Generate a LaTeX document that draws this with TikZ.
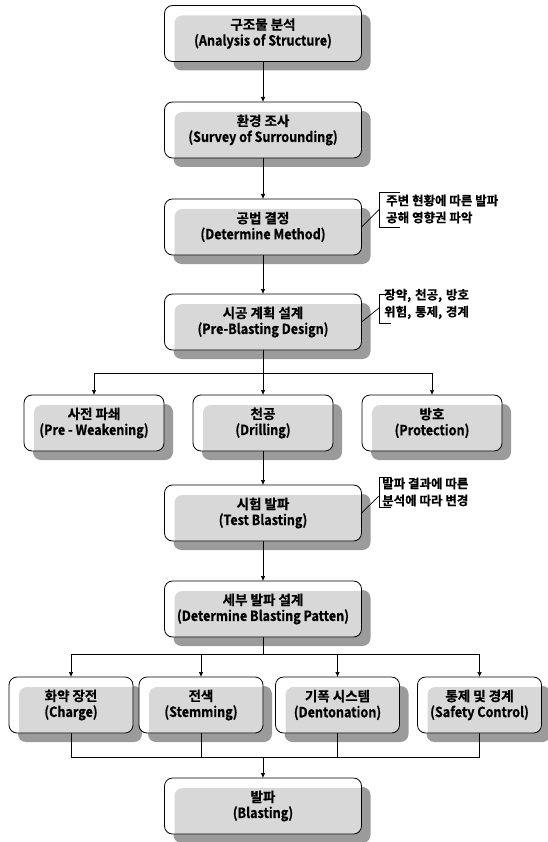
\documentclass[tikz,border=0pt]{standalone}
\usepackage{fontspec}
\usetikzlibrary{arrows.meta}
\newfontfamily\krb{Noto Sans CJK KR Bold}[FakeBold=0.5]
\newfontfamily\enb{Noto Sans CJK KR Bold}[FakeStretch=0.9,FakeBold=0.7]
\definecolor{innergray}{RGB}{216,216,216}
\definecolor{shadowgray}{RGB}{155,155,155}
\newcommand\bxt[2]{{\krb\fontsize{13.5}{19}\selectfont #1}\\[-3pt]{\enb\fontsize{14}{19}\selectfont #2}}
\tikzset{
  flowbox/.style={draw, line width=0.8pt, rounded corners=8pt, fill=white,
    minimum height=56pt, inner sep=0pt, outer sep=0pt, align=center,
    font=\fontsize{13.5}{19}\selectfont,
    preaction={fill=shadowgray, draw=none, transform canvas={shift={(9pt,-9pt)}}},
    path picture={\fill[innergray, rounded corners=8pt]
      ([shift={(10pt,-10pt)}]path picture bounding box.north west) rectangle
      ([shift={(10pt,-10pt)}]path picture bounding box.south east);}},
  boxwide/.style={flowbox, minimum width=197pt},
  boxmid/.style={flowbox, minimum width=140pt},
  boxnarrow/.style={flowbox, minimum width=124pt},
  conn/.style={line width=0.7pt},
  arr/.style={conn, -{Latex[length=5pt,width=4.5pt]}},
  note/.style={font=\krb\fontsize{12.5}{17}\selectfont, align=left, anchor=west, inner sep=0pt},
  bracket/.style={line width=0.7pt}
}
\begin{document}
\begin{tikzpicture}[x=1pt,y=-1pt]
\useasboundingbox (0,0) rectangle (547,842);
% main column
\node[boxwide] (b1) at (263,33.5) {\bxt{구조물 분석}{(Analysis of Structure)}};
\node[boxwide] (b2) at (263,130) {\bxt{환경 조사}{(Survey of Surrounding)}};
\node[boxwide] (b3) at (263,227) {\bxt{공법 결정}{(Determine Method)}};
\node[boxwide] (b4) at (263,322) {\bxt{시공 계획 설계}{(Pre-Blasting Design)}};
\node[boxmid] (r3a) at (94,423) {\bxt{사전 파쇄}{(Pre - Weakening)}};
\node[boxmid] (r3b) at (263,423) {\bxt{천공}{(Drilling)}};
\node[boxmid] (r3c) at (432,423) {\bxt{방호}{(Protection)}};
\node[boxwide] (b5) at (263,513) {\bxt{시험 발파}{(Test Blasting)}};
\node[boxwide] (b6) at (263,609) {\bxt{세부 발파 설계}{(Determine Blasting Patten)}};
\node[boxnarrow] (r4a) at (71,705) {\bxt{화약 장전}{(Charge)}};
\node[boxnarrow] (r4b) at (201,705) {\bxt{전색}{(Stemming)}};
\node[boxnarrow] (r4c) at (337.5,705) {\bxt{기폭 시스템}{(Dentonation)}};
\node[boxnarrow] (r4d) at (479.5,705) {\bxt{통제 및 경계}{(Safety Control)}};
\node[boxwide] (b7) at (263,806) {\bxt{발파}{(Blasting)}};
% junctions
\coordinate (j1) at (263,373);
\coordinate (j2) at (263,654);
\coordinate (j3) at (263,757);
% connectors
\draw[arr] (b1.south) -- (b2.north);
\draw[arr] (b2.south) -- (b3.north);
\draw[arr] (b3.south) -- (b4.north);
\draw[conn] (b4.south) -- (j1);
\draw[arr] (j1) -| (r3a.north);
\draw[arr] (j1) -| (r3c.north);
\draw[arr] (j1) -- (r3b.north);
\draw[arr] (r3b.south) -- (b5.north);
\draw[arr] (b5.south) -- (b6.north);
\draw[conn] (b6.south) -- (j2);
\draw[arr] (j2) -| (r4a.north);
\draw[arr] (j2) -| (r4b.north);
\draw[arr] (j2) -| (r4c.north);
\draw[arr] (j2) -| (r4d.north);
\draw[conn] (r4a.south) |- (j3);
\draw[conn] (r4b.south) |- (j3);
\draw[conn] (r4c.south) |- (j3);
\draw[conn] (r4d.south) |- (j3);
\draw[arr] (j3) -- (b7.north);
% annotations
\coordinate (k1) at (379,209.5);
\draw[bracket] (400,192) -- (379,192) -- (379,227) -- (400,227);
\draw[conn] (b3.east) -- (k1);
\node[note] (n1) at (386,209) {주변 현황에 따른 발파\\공해 영향권 파악};
\coordinate (k2) at (379,308);
\draw[bracket] (391,294) -- (379,294) -- (379,323) -- (391,323);
\draw[conn] (b4.east) -- (k2);
\node[note] (n2) at (384,304) {장약,\hspace{1pt} 천공,\hspace{1pt} 방호\\위험,\hspace{1pt} 통제,\hspace{1pt} 경계};
\coordinate (k3) at (379,496);
\draw[bracket] (391,477) -- (379,477) -- (379,507) -- (391,507);
\draw[conn] (b5.east) -- (k3);
\node[note] (n3) at (382,492) {발파 결과에 따른\\분석에 따라 변경};
\end{tikzpicture}
\end{document}
